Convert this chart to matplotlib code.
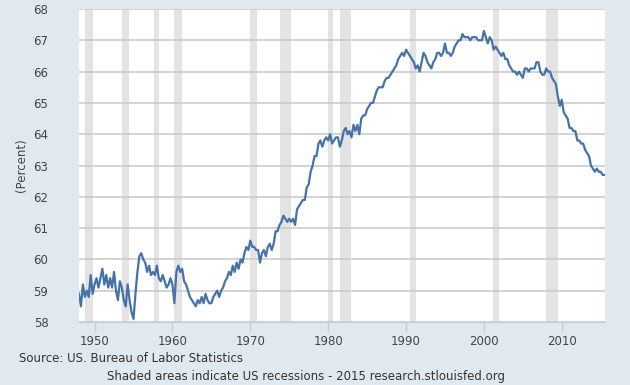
import numpy as np
import matplotlib
matplotlib.use('Agg')
import matplotlib.pyplot as plt

# quarterly readings of the civilian labor force participation rate (percent)
start_year = 1948.0
rate = [
    58.9, 58.5, 59.2, 58.8,  # 1948
    59.0, 58.8, 59.5, 58.9,  # 1949
    59.2, 59.4, 59.1, 59.4,  # 1950
    59.7, 59.2, 59.5, 59.1,  # 1951
    59.4, 59.1, 59.6, 59.0,  # 1952
    58.7, 59.3, 59.1, 58.7,  # 1953
    58.5, 59.2, 58.7, 58.3,  # 1954
    58.1, 58.9, 59.6, 60.1,  # 1955
    60.2, 60.0, 59.9, 59.6,  # 1956
    59.8, 59.5, 59.6, 59.5,  # 1957
    59.8, 59.4, 59.3, 59.5,  # 1958
    59.3, 59.1, 59.2, 59.4,  # 1959
    59.2, 58.6, 59.6, 59.8,  # 1960
    59.6, 59.7, 59.3, 59.2,  # 1961
    59.0, 58.8, 58.7, 58.6,  # 1962
    58.5, 58.7, 58.6, 58.8,  # 1963
    58.6, 58.9, 58.7, 58.6,  # 1964
    58.6, 58.8, 58.9, 59.0,  # 1965
    58.8, 59.0, 59.1, 59.3,  # 1966
    59.4, 59.6, 59.5, 59.8,  # 1967
    59.6, 59.9, 59.7, 60.0,  # 1968
    59.9, 60.2, 60.4, 60.3,  # 1969
    60.6, 60.4, 60.4, 60.3,  # 1970
    60.3, 59.9, 60.2, 60.3,  # 1971
    60.1, 60.4, 60.5, 60.3,  # 1972
    60.5, 60.9, 60.9, 61.1,  # 1973
    61.2, 61.4, 61.3, 61.2,  # 1974
    61.3, 61.2, 61.3, 61.1,  # 1975
    61.6, 61.7, 61.8, 61.9,  # 1976
    61.9, 62.3, 62.4, 62.8,  # 1977
    63.0, 63.3, 63.3, 63.7,  # 1978
    63.8, 63.6, 63.8, 63.9,  # 1979
    63.8, 64.0, 63.7, 63.8,  # 1980
    63.9, 63.9, 63.6, 63.8,  # 1981
    64.1, 64.2, 64.0, 64.1,  # 1982
    63.9, 64.3, 64.1, 64.3,  # 1983
    64.0, 64.5, 64.6, 64.6,  # 1984
    64.8, 64.9, 65.0, 65.0,  # 1985
    65.2, 65.4, 65.5, 65.5,  # 1986
    65.5, 65.7, 65.8, 65.8,  # 1987
    65.9, 66.0, 66.1, 66.2,  # 1988
    66.4, 66.5, 66.6, 66.5,  # 1989
    66.7, 66.6, 66.5, 66.4,  # 1990
    66.3, 66.1, 66.2, 66.0,  # 1991
    66.3, 66.6, 66.5, 66.3,  # 1992
    66.2, 66.1, 66.3, 66.4,  # 1993
    66.6, 66.6, 66.5, 66.6,  # 1994
    66.9, 66.6, 66.6, 66.5,  # 1995
    66.6, 66.8, 66.9, 67.0,  # 1996
    67.0, 67.2, 67.1, 67.1,  # 1997
    67.1, 67.0, 67.1, 67.1,  # 1998
    67.1, 67.0, 67.0, 67.0,  # 1999
    67.3, 67.1, 66.9, 67.1,  # 2000
    67.0, 66.7, 66.8, 66.7,  # 2001
    66.6, 66.5, 66.6, 66.4,  # 2002
    66.4, 66.2, 66.1, 66.0,  # 2003
    66.0, 65.9, 66.0, 65.9,  # 2004
    65.8, 66.1, 66.1, 66.0,  # 2005
    66.1, 66.1, 66.1, 66.3,  # 2006
    66.3, 66.0, 65.9, 65.9,  # 2007
    66.1, 66.0, 66.0, 65.8,  # 2008
    65.7, 65.6, 65.2, 64.9,  # 2009
    65.1, 64.7, 64.6, 64.5,  # 2010
    64.2, 64.2, 64.1, 64.1,  # 2011
    63.8, 63.8, 63.7, 63.7,  # 2012
    63.5, 63.4, 63.3, 63.0,  # 2013
    62.9, 62.8, 62.9, 62.8,  # 2014
    62.8, 62.7, 62.7,        # 2015
]
years = start_year + 0.25 * np.arange(len(rate))

# NBER recessions (start, end) as decimal years
recessions = [
    (1948.83, 1949.83), (1953.50, 1954.42), (1957.58, 1958.33),
    (1960.25, 1961.17), (1969.92, 1970.92), (1973.83, 1975.25),
    (1980.00, 1980.58), (1981.50, 1982.92), (1990.50, 1991.25),
    (2001.17, 2001.92), (2007.92, 2009.50),
]

bg = '#E1E9F0'
fig = plt.figure(figsize=(6.3, 3.85), dpi=100, facecolor=bg)
ax = fig.add_axes([0.1254, 0.1636, 0.8349, 0.8130])
ax.set_facecolor('white')

for r0, r1 in recessions:
    ax.axvspan(r0, r1, color='#E3E3E3', lw=0, zorder=1)

ax.plot(years, rate, color='#4572A7', lw=1.6, zorder=3)

ax.set_xlim(1948.0, 2015.55)
ax.set_ylim(58, 68)
ax.set_yticks(np.arange(58, 69, 1))
ax.set_xticks(np.arange(1950, 2011, 10))
ax.yaxis.grid(True, color='#C8C8C8', lw=1.1, zorder=2)
ax.set_axisbelow(False)

for s in ['top', 'left', 'right']:
    ax.spines[s].set_visible(False)
ax.spines['bottom'].set_color('#C0D0E0')
ax.spines['bottom'].set_linewidth(1.0)
ax.spines['bottom'].set_zorder(4)

ax.tick_params(axis='x', colors='#C0D0E0', length=7, width=1.0,
               labelcolor='#444444', labelsize=8.5, pad=2)
ax.tick_params(axis='y', length=0, labelcolor='#444444', labelsize=8.5, pad=22)

fig.text(0.034, 0.57, '(Percent)', rotation=90, color='#444444',
         fontsize=8.5, ha='center', va='center')
fig.text(0.030, 0.068, 'Source: US. Bureau of Labor Statistics',
         color='#333333', fontsize=8.5, ha='left', va='center')
fig.text(0.485, 0.022, 'Shaded areas indicate US recessions - 2015 research.stlouisfed.org',
         color='#333333', fontsize=8.5, ha='center', va='center')

fig.savefig('out.png', dpi=100, facecolor=bg)
plt.close()
